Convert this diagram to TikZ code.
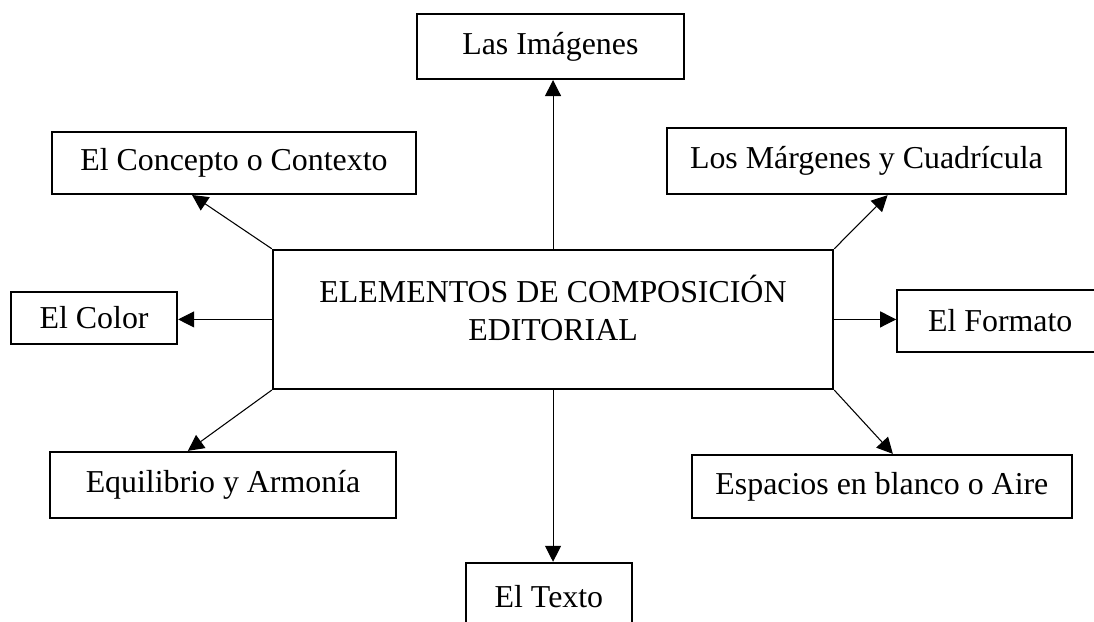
\documentclass[tikz,border=0pt]{standalone}
\usepackage{fontspec}
\setmainfont{Liberation Serif}
\usetikzlibrary{arrows.meta, positioning}

\begin{document}
\begin{tikzpicture}[>={Triangle[length=12pt, width=12pt]}]
 % Styles for the boxes and the arrows
 \tikzset{
caja/.style = {draw, rectangle, line width=1.6pt, inner sep=0pt, font=\fontsize{24}{29}\selectfont},
flecha/.style = {draw, ->, line width=0.8pt},
}

 % Page size
 \useasboundingbox (-14.63,-7.98) rectangle (14.31,8.45);

 % Central block
 \node [caja, minimum width=14.82cm, minimum height=3.68cm,
   label={[align=center, yshift=0.3cm, font=\fontsize{24}{29}\selectfont]center:ELEMENTOS DE COMPOSICIÓN\\EDITORIAL}] (centro) at (0,0) {};

 % Surrounding blocks
 \node [caja, minimum width=7.06cm, minimum height=1.72cm] (imagenes) at (-0.07,7.22) {Las Imágenes};
 \node [caja, minimum width=9.63cm, minimum height=1.64cm] (concepto) at (-8.44,4.14) {El Concepto o Contexto};
 \node [caja, minimum width=10.56cm, minimum height=1.75cm] (margenes) at (8.29,4.19) {Los Márgenes y Cuadrícula};
 \node [caja, minimum width=4.39cm, minimum height=1.38cm] (color) at (-12.14,0.04) {El Color};
 \node [caja, minimum width=5.45cm, minimum height=1.64cm] (formato) at (11.83,-0.04) {El Formato};
 \node [caja, minimum width=9.15cm, minimum height=1.75cm] (equilibrio) at (-8.73,-4.38) {Equilibrio y Armonía};
 \node [caja, minimum width=10.05cm, minimum height=1.67cm] (espacios) at (8.70,-4.42) {Espacios en blanco o Aire};
 \node [caja, minimum width=4.39cm, minimum height=1.80cm] (texto) at (-0.11,-7.34) {El Texto};

 % Arrows from the central block
 \draw [flecha] (centro.north) -- (centro.north |- imagenes.south);
 \draw [flecha] (centro.north west) -- ([xshift=-1.11cm]concepto.south);
 \draw [flecha] (centro.north east) -- ([xshift=0.56cm]margenes.south);
 \draw [flecha] (centro.west) -- (centro.west -| color.east);
 \draw [flecha] (centro.east) -- (centro.east -| formato.west);
 \draw [flecha] (centro.south west) -- ([xshift=-0.93cm]equilibrio.north);
 \draw [flecha] (centro.south east) -- ([xshift=0.29cm]espacios.north);
 \draw [flecha] (centro.south) -- (centro.south |- texto.north);

\end{tikzpicture}
\end{document}
